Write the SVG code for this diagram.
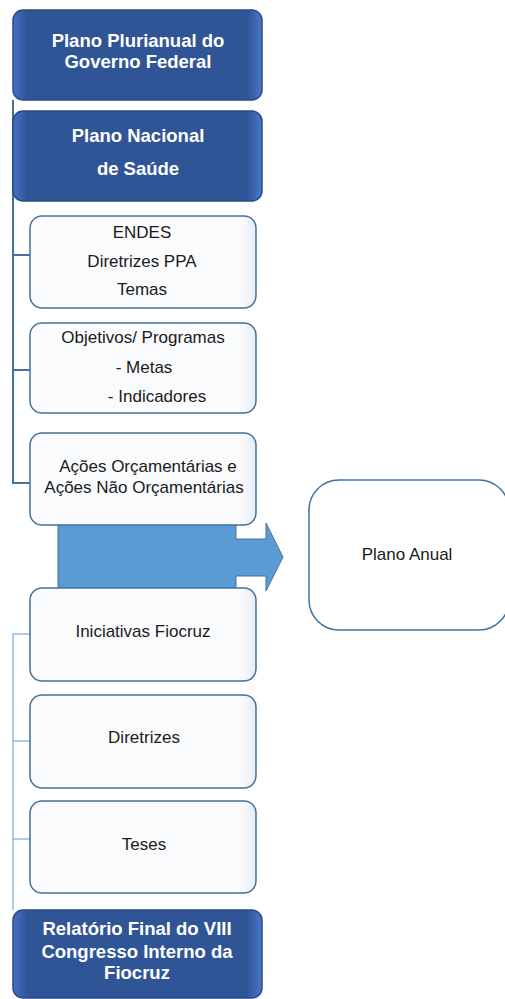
<svg xmlns="http://www.w3.org/2000/svg" width="505" height="999" viewBox="0 0 505 999">
<defs>
<linearGradient id="dark" x1="0" y1="0" x2="1" y2="0">
<stop offset="0" stop-color="#4470C0"/>
<stop offset="0.06" stop-color="#2F5597"/>
<stop offset="0.94" stop-color="#2F5597"/>
<stop offset="1" stop-color="#4A78C8"/>
</linearGradient>
<linearGradient id="light" x1="0" y1="0" x2="1" y2="0">
<stop offset="0" stop-color="#FAFBFD"/>
<stop offset="0.93" stop-color="#FAFBFD"/>
<stop offset="1" stop-color="#E8ECF2"/>
</linearGradient>
<style>
.dark{fill:url(#dark);stroke:#2A4A85;stroke-width:1.5}
.light{fill:url(#light);stroke:#41719C;stroke-width:1.5}
.tw{font-family:"Liberation Sans",Arial,sans-serif;font-weight:bold;font-size:18.5px;fill:#FFFFFF;text-anchor:middle}
.tb{font-family:"Liberation Sans",Arial,sans-serif;font-size:17px;fill:#1A1A1A;text-anchor:middle}
.c1{fill:none;stroke:#41719C;stroke-width:2}
.c2{fill:none;stroke:#5B9BD5;stroke-width:1}
</style>
</defs>
<rect width="505" height="999" fill="#FFFFFF"/>
<g id="connectors">
<path class="c1" d="M13,100 V483 H30 M13,255 H30 M13,370 H30"/>
<path class="c2" d="M13,910 V634 H30 M13,741 H30 M13,839 H30"/>
</g>
<g id="arrow">
<polygon points="58,515 236,515 236,539 266,539 266,523 283,557 266,591 266,576 236,576 236,592 58,592" fill="#5B9BD5" stroke="#41719C" stroke-width="1"/>
</g>
<g id="ppa">
<rect class="dark" x="13" y="10" width="249" height="90" rx="10"/>
<text class="tw" x="138" y="47">Plano Plurianual do</text>
<text class="tw" x="138" y="68">Governo Federal</text>
</g>
<g id="pns">
<rect class="dark" x="13" y="111" width="249" height="90" rx="10"/>
<text class="tw" x="138" y="142">Plano Nacional</text>
<text class="tw" x="138" y="175">de Saúde</text>
</g>
<g id="endes">
<rect class="light" x="30" y="216" width="226" height="92" rx="12"/>
<text class="tb" x="142" y="238">ENDES</text>
<text class="tb" x="142" y="267">Diretrizes PPA</text>
<text class="tb" x="142" y="295">Temas</text>
</g>
<g id="objetivos">
<rect class="light" x="30" y="323" width="226" height="90" rx="12"/>
<text class="tb" x="143" y="343">Objetivos/ Programas</text>
<text class="tb" x="144" y="373">- Metas</text>
<text class="tb" x="157" y="402">- Indicadores</text>
</g>
<g id="acoes">
<rect class="light" x="30" y="433" width="226" height="92" rx="12"/>
<text class="tb" x="148" y="472">Ações Orçamentárias e</text>
<text class="tb" x="144" y="493">Ações Não Orçamentárias</text>
</g>
<g id="plano-anual">
<rect x="309" y="480" width="200" height="150" rx="30" fill="#FFFFFF" stroke="#41719C" stroke-width="1.5"/>
<text class="tb" x="407" y="560">Plano Anual</text>
</g>
<g id="iniciativas">
<rect class="light" x="30" y="588" width="226" height="93" rx="12"/>
<text class="tb" x="143" y="637">Iniciativas Fiocruz</text>
</g>
<g id="diretrizes">
<rect class="light" x="30" y="695" width="226" height="93" rx="12"/>
<text class="tb" x="144" y="743">Diretrizes</text>
</g>
<g id="teses">
<rect class="light" x="30" y="801" width="226" height="92" rx="12"/>
<text class="tb" x="144" y="850">Teses</text>
</g>
<g id="relatorio">
<rect class="dark" x="13" y="910" width="249" height="88" rx="10"/>
<text class="tw" x="137" y="935">Relatório Final do VIII</text>
<text class="tw" x="137" y="958">Congresso Interno da</text>
<text class="tw" x="137" y="979">Fiocruz</text>
</g>
</svg>
